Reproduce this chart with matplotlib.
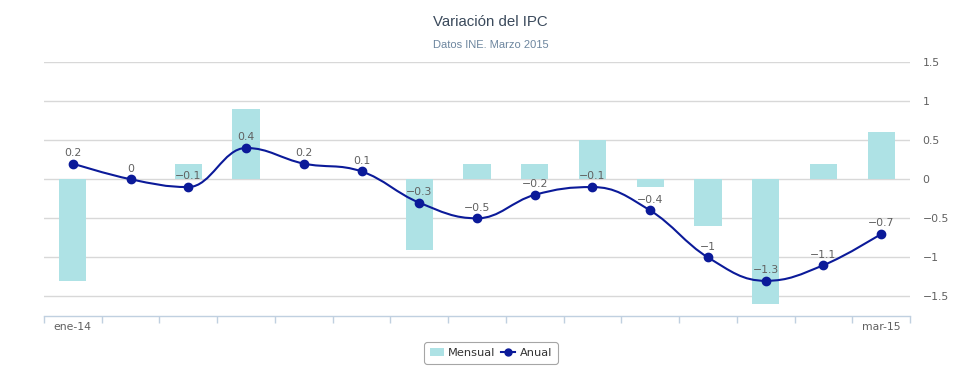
import matplotlib
matplotlib.use("Agg")
import matplotlib.pyplot as plt
from matplotlib.path import Path
from matplotlib.patches import PathPatch
from matplotlib.lines import Line2D
from matplotlib.patches import Patch

meses = ["ene-14", "feb-14", "mar-14", "abr-14", "may-14", "jun-14", "jul-14",
         "ago-14", "sep-14", "oct-14", "nov-14", "dic-14", "ene-15", "feb-15", "mar-15"]
mensual = [-1.3, 0, 0.2, 0.9, 0, 0, -0.9, 0.2, 0.2, 0.5, -0.1, -0.6, -1.6, 0.2, 0.6]
anual = [0.2, 0, -0.1, 0.4, 0.2, 0.1, -0.3, -0.5, -0.2, -0.1, -0.4, -1, -1.3, -1.1, -0.7]
yticks = [-1.5, -1, -0.5, 0, 0.5, 1, 1.5]

bar_color = "#aee2e5"
line_color = "#0b1a99"
grid_color = "#d8d8d8"
text_color = "#606060"


def spline_path(xs, ys, smoothing=1.5):
    # bezier spline like highcharts
    denom = smoothing + 1
    n = len(xs)
    lc = [(x, y) for x, y in zip(xs, ys)]
    rc = [(x, y) for x, y in zip(xs, ys)]
    for i in range(1, n - 1):
        px, py = xs[i], ys[i]
        lx, ly = xs[i - 1], ys[i - 1]
        nx, ny = xs[i + 1], ys[i + 1]
        lcx = (smoothing * px + lx) / denom
        lcy = (smoothing * py + ly) / denom
        rcx = (smoothing * px + nx) / denom
        rcy = (smoothing * py + ny) / denom
        if rcx != lcx:
            corr = (rcy - lcy) * (rcx - px) / (rcx - lcx) + py - rcy
            lcy += corr
            rcy += corr
        if lcy > ly and lcy > py:
            lcy = max(ly, py)
            rcy = 2 * py - lcy
        elif lcy < ly and lcy < py:
            lcy = min(ly, py)
            rcy = 2 * py - lcy
        if rcy > ny and rcy > py:
            rcy = max(ny, py)
            lcy = 2 * py - rcy
        elif rcy < ny and rcy < py:
            rcy = min(ny, py)
            lcy = 2 * py - rcy
        lc[i] = (lcx, lcy)
        rc[i] = (rcx, rcy)
    verts = [(xs[0], ys[0])]
    codes = [Path.MOVETO]
    for i in range(1, n):
        verts += [rc[i - 1], lc[i], (xs[i], ys[i])]
        codes += [Path.CURVE4] * 3
    return Path(verts, codes)


fig = plt.figure(figsize=(9.75, 3.9), dpi=100)
ax = fig.add_axes([44 / 975, 1 - 316 / 390, (910 - 44) / 975, (316 - 62) / 390])

x = list(range(len(meses)))
ax.bar(x, mensual, width=0.47, color=bar_color, zorder=2)

ax.add_patch(PathPatch(spline_path(x, anual), facecolor="none",
                       edgecolor=line_color, lw=1.5, zorder=3))
ax.plot(x, anual, "o", color=line_color, ms=6, zorder=4)
for xi, v in zip(x, anual):
    ax.annotate("{:g}".format(v).replace("-", "\u2212"), (xi, v), xytext=(0, 4),
                textcoords="offset points", ha="center", va="bottom",
                fontsize=7.8, color=text_color, zorder=5)

ax.set_xlim(-0.5, len(meses) - 0.5)
ax.set_ylim(-1.75, 1.5)

ax.yaxis.tick_right()
ax.set_yticks(yticks)
ax.set_yticklabels(["{:g}".format(v).replace("-", "\u2212") for v in yticks],
                   fontsize=7.8, color=text_color)
ax.tick_params(axis="y", length=0, pad=9)
for v in yticks:
    ax.axhline(v, color=grid_color, lw=1, zorder=1)

ax.set_xticks([i - 0.5 for i in range(len(meses) + 1)], minor=False)
ax.set_xticklabels([])
ax.tick_params(axis="x", length=5, color="#c0d0e0", width=1)
ax.set_xticks([0, len(meses) - 1], minor=True)
ax.set_xticklabels([meses[0], meses[-1]], minor=True, fontsize=7.8, color=text_color)
ax.tick_params(axis="x", which="minor", length=0, pad=4)

for s in ["top", "left", "right"]:
    ax.spines[s].set_visible(False)
ax.spines["bottom"].set_color("#c0d0e0")
ax.spines["bottom"].set_linewidth(1)

fig.text(0.503, 1 - 22 / 390, "Variación del IPC", ha="center", va="center",
         fontsize=10.8, color="#3b4a5c", family="Liberation Sans")
fig.text(0.503, 1 - 45 / 390, "Datos INE. Marzo 2015", ha="center", va="center",
         fontsize=8, color="#6d869f", family="Liberation Sans")

handles = [Patch(facecolor=bar_color, edgecolor="none"),
           Line2D([], [], color=line_color, marker="o", ms=5, lw=1.5)]
leg = fig.legend(handles, ["Mensual", "Anual"], loc="center",
                 bbox_to_anchor=(491 / 975, 1 - 353 / 390), ncol=2, frameon=True,
                 fontsize=8.2, handlelength=1.2, handletextpad=0.4,
                 columnspacing=0.5, borderpad=0.5, fancybox=True)
leg.get_frame().set_edgecolor("#909090")
leg.get_frame().set_linewidth(0.8)
for t in leg.get_texts():
    t.set_color("#333333")

fig.savefig("out.png", dpi=100)
